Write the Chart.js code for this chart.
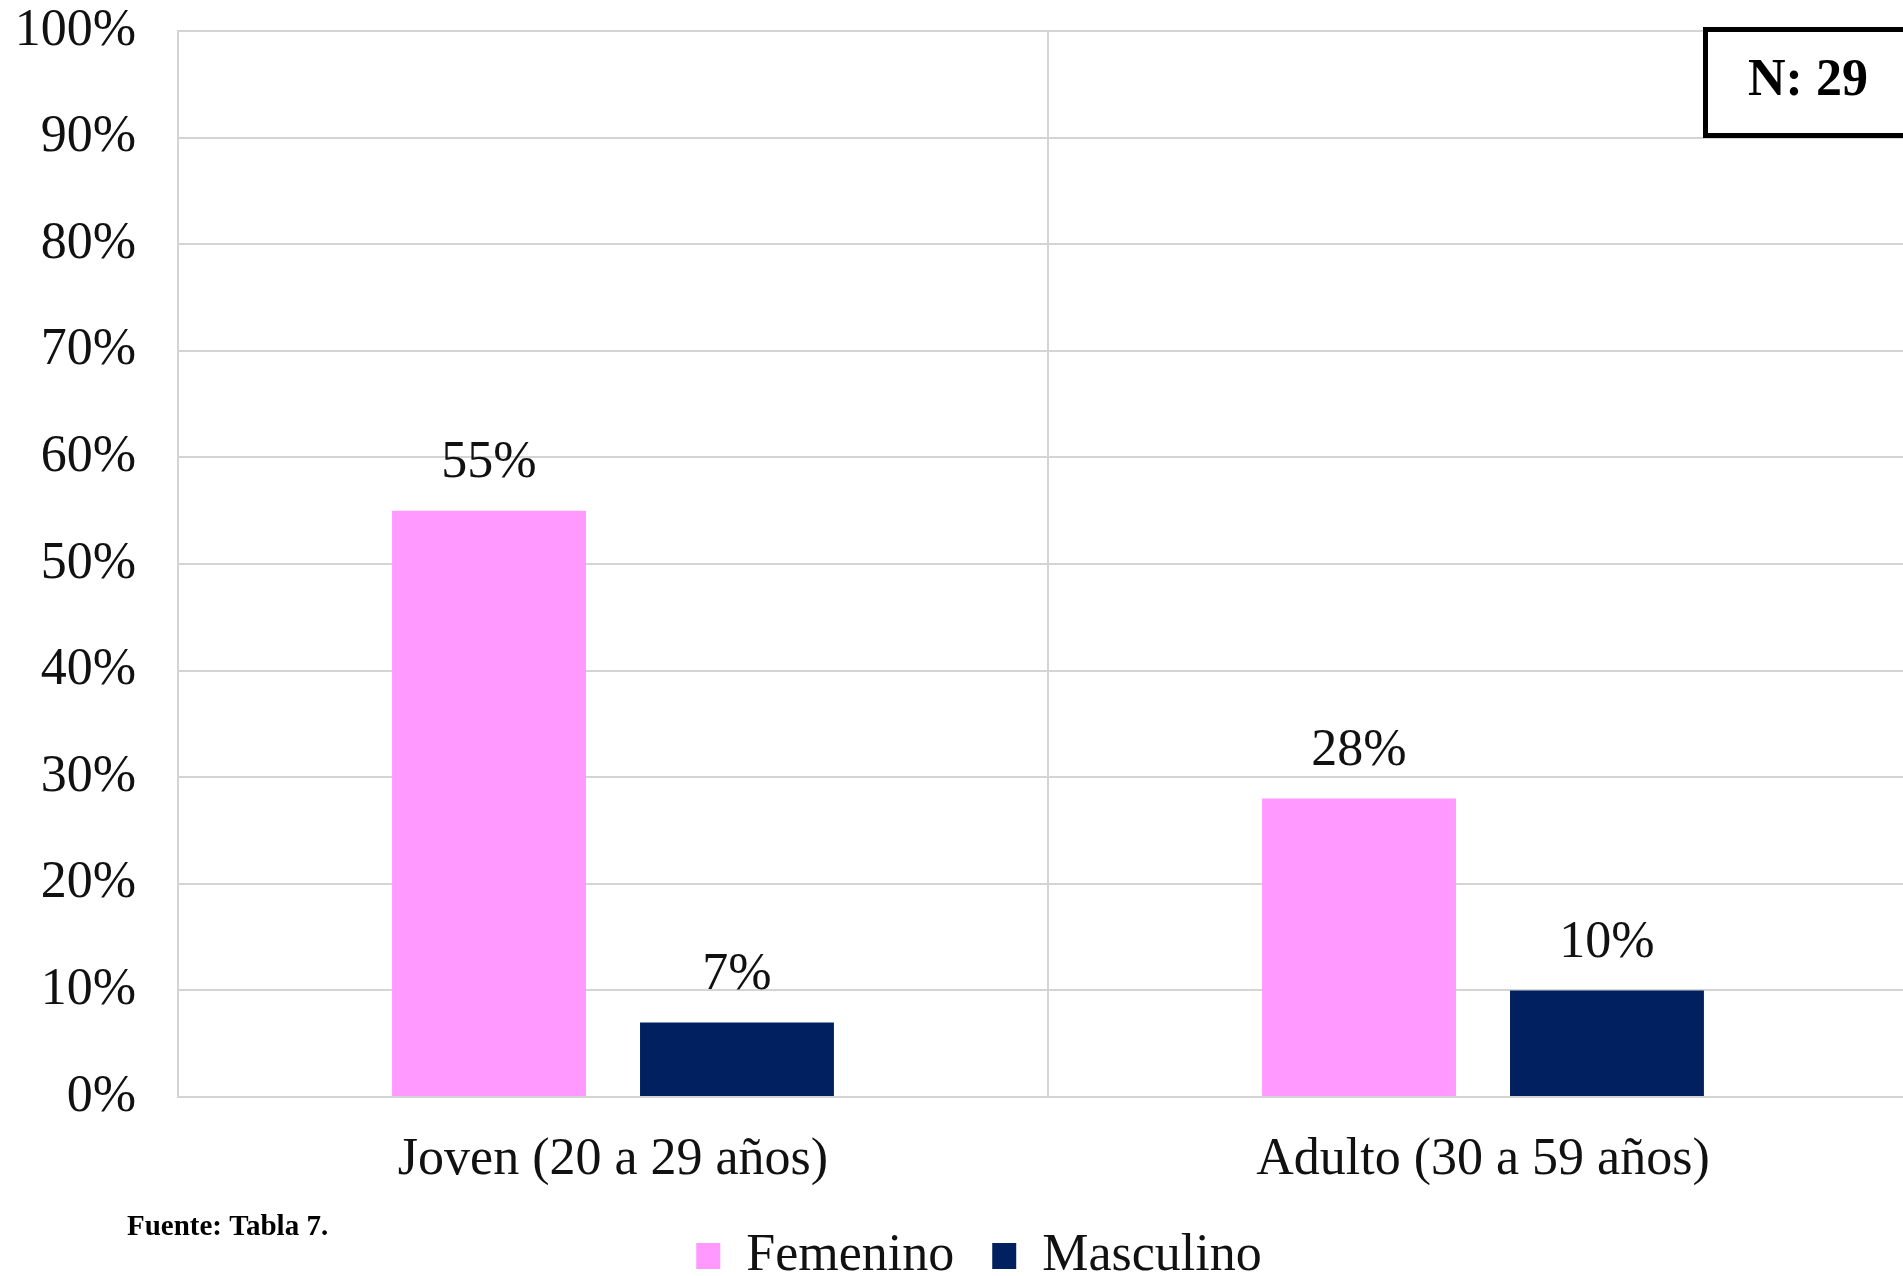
<!DOCTYPE html>
<html lang="es">
<head>
<meta charset="utf-8">
<title>Distribución por grupo de edad y sexo</title>
<script src="https://cdn.jsdelivr.net/npm/chart.js@4.4.1/dist/chart.umd.min.js"></script>
<style>
  html, body { margin: 0; padding: 0; background: #ffffff; overflow: hidden; }
  #wrap { position: relative; width: 1930px; height: 1276px; }
  canvas { display: block; }
</style>
</head>
<body>
<div id="wrap"><canvas id="chart" width="1930" height="1276"></canvas></div>
<script>
// Categorías (grupos de edad)
const categories = ['Joven (20 a 29 años)', 'Adulto (30 a 59 años)'];
// Porcentajes por sexo
const femenino = [55, 28];
const masculino = [7, 10];
const seriesNames = ['Femenino', 'Masculino'];
const seriesColors = ['#FF99FF', '#002060'];
// Eje Y
const yTicks = [0, 10, 20, 30, 40, 50, 60, 70, 80, 90, 100];
const sampleNote = 'N: 29';
const sourceNote = 'Fuente: Tabla 7.';

const SERIF = '"Liberation Serif", "Times New Roman", serif';
const GRID = '#d4d4d4';

// Etiquetas de valor sobre cada barra
const valueLabels = {
  id: 'valueLabels',
  afterDatasetsDraw(chart) {
    const ctx = chart.ctx;
    ctx.save();
    ctx.font = '52px ' + SERIF;
    ctx.fillStyle = '#111111';
    ctx.textAlign = 'center';
    ctx.textBaseline = 'middle';
    chart.data.datasets.forEach((ds, i) => {
      chart.getDatasetMeta(i).data.forEach((bar, j) => {
        ctx.fillText(ds.data[j] + '%', bar.x, bar.y - 47);
      });
    });
    ctx.restore();
  }
};

// La leyenda se centra algo a la izquierda del centro del área de trazado
const legendShift = {
  id: 'legendShift',
  afterLayout(chart) {
    const lg = chart.legend;
    if (lg) {
      lg.left += 20;
      lg.right += 20;
      lg.top += 2;
      lg.bottom += 2;
    }
  }
};

// Recuadro "N" y nota de fuente
const notes = {
  id: 'notes',
  afterDraw(chart) {
    const ctx = chart.ctx;
    ctx.save();
    ctx.fillStyle = '#ffffff';
    ctx.fillRect(1705, 29, 212, 106);
    ctx.strokeStyle = '#000000';
    ctx.lineWidth = 5;
    ctx.strokeRect(1705.5, 29.5, 212, 106);
    ctx.fillStyle = '#000000';
    ctx.font = 'bold 52px ' + SERIF;
    ctx.textAlign = 'center';
    ctx.textBaseline = 'middle';
    ctx.fillText(sampleNote, 1808, 82);
    ctx.font = 'bold 29px ' + SERIF;
    ctx.textAlign = 'left';
    ctx.fillText(sourceNote, 127, 1228);
    ctx.restore();
  }
};

new Chart(document.getElementById('chart'), {
  type: 'bar',
  data: {
    labels: categories,
    datasets: [
      { label: seriesNames[0], data: femenino, backgroundColor: seriesColors[0], borderWidth: 0 },
      { label: seriesNames[1], data: masculino, backgroundColor: seriesColors[1], borderWidth: 0 }
    ]
  },
  options: {
    responsive: false,
    animation: false,
    devicePixelRatio: 1,
    categoryPercentage: 0.57,
    barPercentage: 0.782,
    layout: { padding: { left: 0, right: 12, top: 31, bottom: 0 } },
    plugins: {
      tooltip: { enabled: false },
      legend: {
        position: 'bottom',
        maxHeight: 86,
        labels: {
          boxWidth: 24,
          boxHeight: 26,
          padding: 38,
          color: '#111111',
          font: { family: SERIF, size: 52 }
        }
      }
    },
    scales: {
      x: {
        grid: { display: true, color: GRID, lineWidth: 2, drawTicks: false, offset: true },
        border: { display: true, color: GRID, width: 2 },
        ticks: { color: '#111111', padding: 32, font: { family: SERIF, size: 52 } },
        afterFit(scale) { scale.height = 93; }
      },
      y: {
        min: 0,
        max: 100,
        afterBuildTicks(scale) { scale.ticks = yTicks.map(v => ({ value: v })); },
        grid: { color: GRID, lineWidth: 2, drawTicks: false },
        border: { display: true, color: GRID, width: 2 },
        ticks: {
          color: '#111111',
          padding: 42,
          font: { family: SERIF, size: 52 },
          callback: v => v + '%'
        },
        afterFit(scale) {
          scale.width = 178;
          scale.paddingTop = 0;
          scale.paddingBottom = 0;
        }
      }
    }
  },
  plugins: [valueLabels, legendShift, notes]
});
</script>
</body>
</html>
